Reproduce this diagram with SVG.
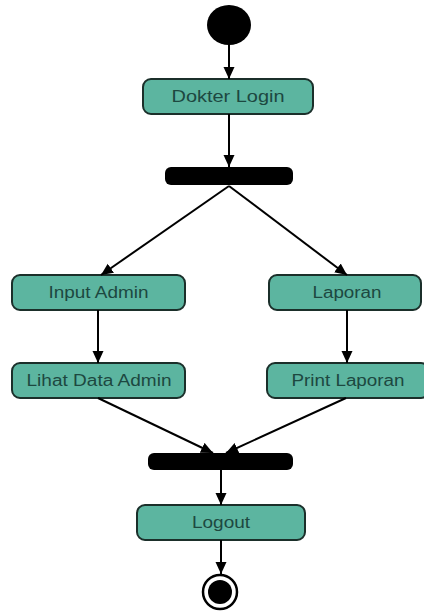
<svg xmlns="http://www.w3.org/2000/svg" width="424" height="613" viewBox="0 0 424 613">
<style>
.box{fill:#5cb5a0;stroke:#1b2f2a;stroke-width:2}
.lbl{font-family:"Liberation Sans",Arial,sans-serif;font-size:16px;fill:#1d4840;text-anchor:middle}
.bar{fill:#000}
.edge{stroke:#000;stroke-width:2;fill:none;marker-end:url(#ah)}
</style>
<defs>
<marker id="ah" markerUnits="userSpaceOnUse" markerWidth="12" markerHeight="12" viewBox="0 0 12 12" refX="12" refY="6" orient="auto">
<path d="M0,0.5 L12,6 L0,11.5 Z" fill="#000"/>
</marker>
</defs>
<rect width="424" height="613" fill="#fff"/>
<g id="start"><ellipse cx="229" cy="25" rx="22" ry="20" fill="#000"/></g>
<g id="dokter-login"><rect class="box" x="143" y="79" width="170" height="35" rx="8"/><text class="lbl" x="228" y="102" textLength="113" lengthAdjust="spacingAndGlyphs">Dokter Login</text></g>
<g id="fork"><rect class="bar" x="165" y="167" width="128" height="18" rx="6"/></g>
<g id="input-admin"><rect class="box" x="12" y="275" width="173" height="35" rx="8"/><text class="lbl" x="98.5" y="298" textLength="100" lengthAdjust="spacingAndGlyphs">Input Admin</text></g>
<g id="laporan"><rect class="box" x="269" y="275" width="152" height="35" rx="8"/><text class="lbl" x="347" y="298" textLength="69" lengthAdjust="spacingAndGlyphs">Laporan</text></g>
<g id="lihat-data-admin"><rect class="box" x="12" y="363" width="173" height="35" rx="8"/><text class="lbl" x="99" y="386" textLength="145" lengthAdjust="spacingAndGlyphs">Lihat Data Admin</text></g>
<g id="print-laporan"><rect class="box" x="267" y="363" width="162" height="35" rx="8"/><text class="lbl" x="348" y="386" textLength="113" lengthAdjust="spacingAndGlyphs">Print Laporan</text></g>
<g id="join"><rect class="bar" x="148" y="453" width="145" height="17" rx="6"/></g>
<g id="logout"><rect class="box" x="137" y="505" width="168" height="35" rx="8"/><text class="lbl" x="221" y="528" textLength="58" lengthAdjust="spacingAndGlyphs">Logout</text></g>
<g id="end"><circle cx="220" cy="592" r="17" fill="#fff" stroke="#000" stroke-width="2.5"/><circle cx="220" cy="592" r="12" fill="#000"/></g>
<g id="connectors">
<line class="edge" x1="229" y1="45" x2="229" y2="79"/>
<line class="edge" x1="229" y1="114" x2="229" y2="167"/>
<line class="edge" x1="229" y1="186" x2="101" y2="275"/>
<line class="edge" x1="229" y1="186" x2="347" y2="275"/>
<line class="edge" x1="98" y1="310" x2="98" y2="363"/>
<line class="edge" x1="347" y1="310" x2="347" y2="363"/>
<line class="edge" x1="98" y1="398" x2="213" y2="453"/>
<line class="edge" x1="346" y1="398" x2="226" y2="453"/>
<line class="edge" x1="221" y1="470" x2="221" y2="505"/>
<line class="edge" x1="221" y1="540" x2="221" y2="574"/>
</g>
</svg>
